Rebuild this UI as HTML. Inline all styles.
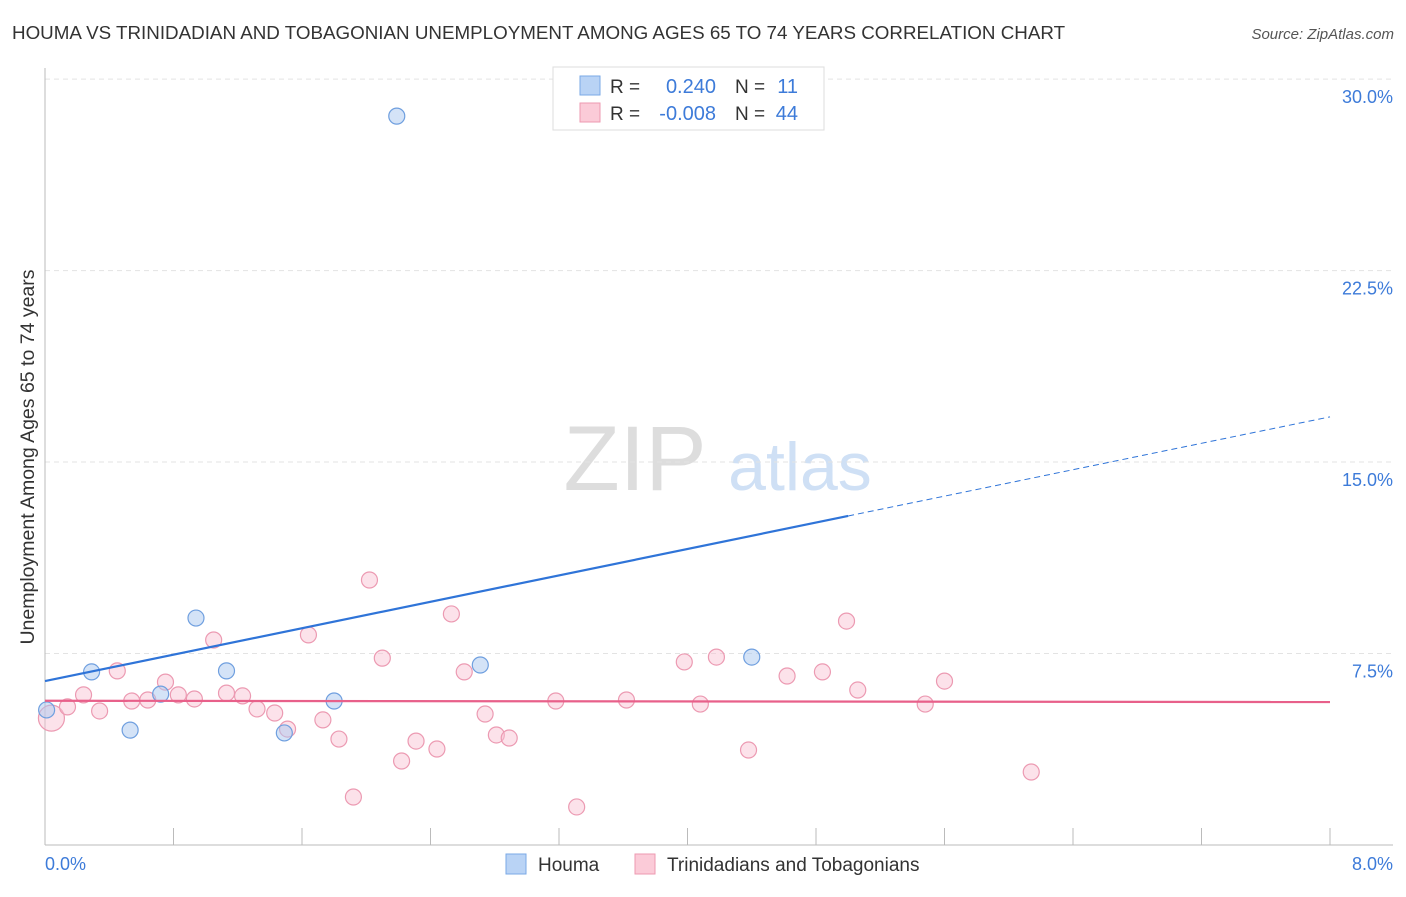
<!DOCTYPE html>
<html><head><meta charset="utf-8"><style>
body{margin:0;background:#fff;font-family:"Liberation Sans",sans-serif;}
svg text{font-family:"Liberation Sans",sans-serif;}
</style></head><body>
<svg id="c" width="1406" height="892" xmlns="http://www.w3.org/2000/svg">
<text x="12" y="39" font-size="18.8" fill="#333">HOUMA VS TRINIDADIAN AND TOBAGONIAN UNEMPLOYMENT AMONG AGES 65 TO 74 YEARS CORRELATION CHART</text>
<text x="1394" y="39" font-size="15" fill="#555" font-style="italic" text-anchor="end">Source: ZipAtlas.com</text>
<text x="34" y="457" font-size="19.5" fill="#333" text-anchor="middle" transform="rotate(-90 34 457)">Unemployment Among Ages 65 to 74 years</text>
<g><text x="635" y="490" font-size="92" fill="#ddd" font-family="Liberation Serif" text-anchor="middle">ZIP</text><text x="800" y="490" font-size="68" fill="#cfe0f5" text-anchor="middle">atlas</text></g>
<g id="grid"></g><g id="axes"></g><g id="marks"></g>
<g>
<rect x="553" y="67" width="271" height="63" fill="#fff" stroke="#ddd"/>
<rect x="580" y="76" width="20" height="19" fill="#b9d3f5" stroke="#7aa8e6"/>
<rect x="580" y="103" width="20" height="19" fill="#fbcbd8" stroke="#ee9ab0"/>
<text x="610" y="93" font-size="19" fill="#333">R =</text><text x="716" y="93" font-size="20" fill="#3d7bd9" text-anchor="end">0.240</text>
<text x="735" y="93" font-size="19" fill="#333">N =</text><text x="798" y="93" font-size="20" fill="#3d7bd9" text-anchor="end">11</text>
<text x="610" y="120" font-size="19" fill="#333">R =</text><text x="716" y="120" font-size="20" fill="#3d7bd9" text-anchor="end">-0.008</text>
<text x="735" y="120" font-size="19" fill="#333">N =</text><text x="798" y="120" font-size="20" fill="#3d7bd9" text-anchor="end">44</text>
</g>
<g>
<rect x="506" y="854" width="20" height="20" fill="#b9d3f5" stroke="#7aa8e6"/>
<text x="538" y="871" font-size="19" fill="#333">Houma</text>
<rect x="635" y="854" width="20" height="20" fill="#fbcbd8" stroke="#ee9ab0"/>
<text x="667" y="871" font-size="19" fill="#333">Trinidadians and Tobagonians</text>
</g>
</svg>
<script>
const houmaX=[0.01,0.29,0.53,0.72,0.94,1.13,1.49,1.80,2.19,2.71,4.40];
const houmaY=[5.29,6.78,4.50,5.91,8.89,6.82,4.39,5.64,28.55,7.05,7.36];
const trinX=[0.04,0.14,0.24,0.34,0.45,0.54,0.64,0.75,0.83,0.93,1.05,1.13,1.23,1.32,1.43,1.51,1.64,1.73,1.83,1.92,2.02,2.10,2.22,2.31,2.44,2.53,2.61,2.74,2.81,2.89,3.18,3.31,3.62,3.98,4.08,4.18,4.38,4.62,4.84,4.99,5.06,5.48,5.60,6.14];
const trinY=[4.97,5.41,5.88,5.25,6.82,5.64,5.68,6.38,5.88,5.72,8.03,5.95,5.84,5.33,5.17,4.54,8.23,4.90,4.15,1.88,10.38,7.32,3.29,4.07,3.76,9.05,6.78,5.13,4.31,4.19,5.64,1.49,5.68,7.17,5.52,7.36,3.72,6.62,6.78,8.77,6.07,5.52,6.42,2.86];
const houmaTrend=[6.42,16.77];
const trinTrend=[5.65,5.6];
const yTicks=[7.5,15,22.5,30];
const yTickLabels=["7.5%","15.0%","22.5%","30.0%"];
const xTicks=[0,0.8,1.6,2.4,3.2,4.0,4.8,5.6,6.4,7.2,8.0];
const NS="http://www.w3.org/2000/svg";
const X=v=>45+v*1285/8, Y=v=>845-v*25.53;
function mk(p,t,a){const e=document.createElementNS(NS,t);for(const k in a)e.setAttribute(k,a[k]);document.getElementById(p).appendChild(e);return e;}
yTicks.forEach((t,i)=>{
 const l=mk('grid','line',{x1:45,x2:1393,y1:Y(t),y2:Y(t),stroke:'#e3e3e3','stroke-dasharray':'5,4'});
 
 
 const tx=mk('grid','text',{x:1393,y:Y(t)+24,'font-size':18,fill:'#3d7bd9','text-anchor':'end'});
 tx.textContent=yTickLabels[i];
 
 
});
const ax=mk('axes','line',{x1:45,x2:1393,y1:845,y2:845,stroke:'#bbb'});


const ay=mk('axes','line',{x1:45,x2:45,y1:68,y2:845,stroke:'#bbb'});


xTicks.forEach(t=>{const l=mk('axes','line',{x1:X(t),x2:X(t),y1:828,y2:845,stroke:'#bbb'});
 
 });
const xl0=mk('axes','text',{x:45,y:870,'font-size':18,fill:'#3d7bd9'});xl0.textContent='0.0%';


const xl1=mk('axes','text',{x:1393,y:870,'font-size':18,fill:'#3d7bd9','text-anchor':'end'});xl1.textContent='8.0%';


trinX.forEach((x,i)=>{const c=mk('marks','circle',{cx:X(x),cy:Y(trinY[i]),r:i==0?13:8,fill:'rgba(248,190,208,0.45)',stroke:'#ec9ab2','stroke-width':1.2});
 
 });
houmaX.forEach((x,i)=>{const c=mk('marks','circle',{cx:X(x),cy:Y(houmaY[i]),r:8,fill:'rgba(170,200,240,0.5)',stroke:'#6f9fdf','stroke-width':1.2});
 
 });
const hy=x=>houmaTrend[0]+(houmaTrend[1]-houmaTrend[0])*x/8;
const ht=mk('marks','line',{x1:X(0),y1:Y(hy(0)),x2:X(5.0),y2:Y(hy(5.0)),stroke:'#2f74d8','stroke-width':2.2});


const hd=mk('marks','line',{x1:X(5.0),y1:Y(hy(5.0)),x2:X(8),y2:Y(hy(8)),stroke:'#2f74d8','stroke-width':1,'stroke-dasharray':'6,4'});


const tt=mk('marks','line',{x1:X(0),y1:Y(trinTrend[0]),x2:X(8),y2:Y(trinTrend[1]),stroke:'#e8608a','stroke-width':2.2});


</script>
</body></html>
